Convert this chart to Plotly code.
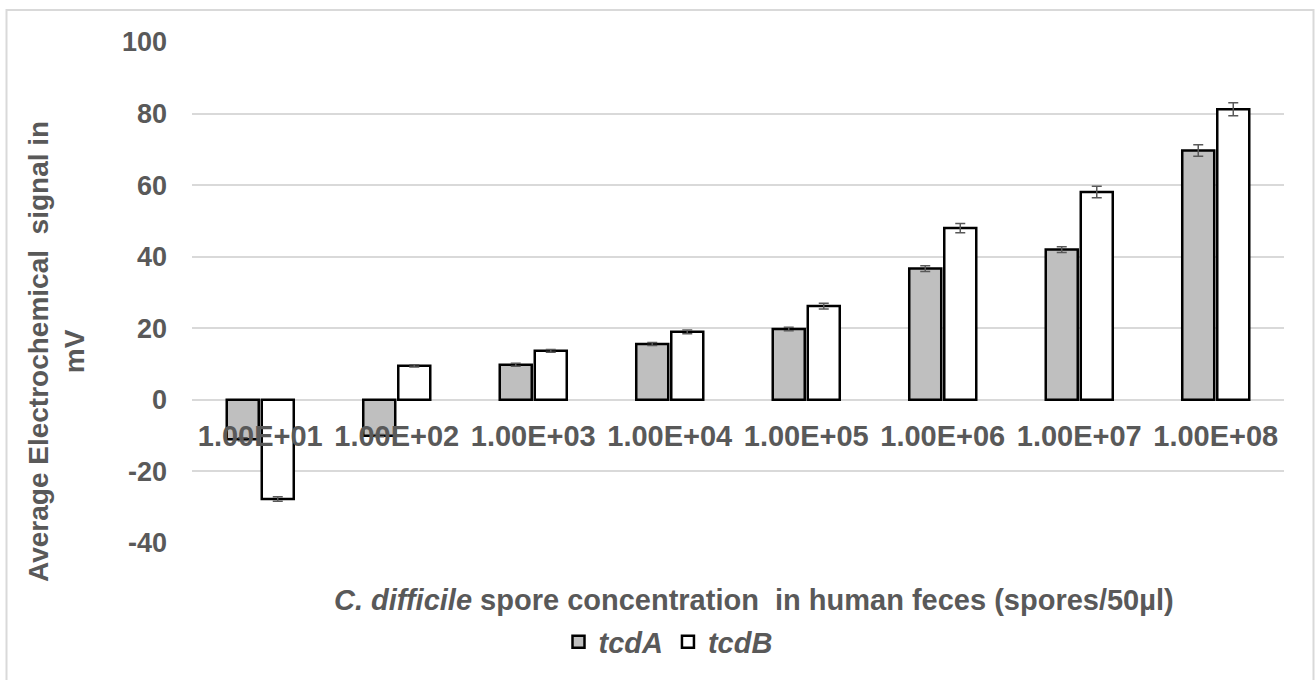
import plotly.graph_objects as go

categories = ["1.00E+01", "1.00E+02", "1.00E+03", "1.00E+04",
              "1.00E+05", "1.00E+06", "1.00E+07", "1.00E+08"]
tcdA = [-11.0, -10.0, 9.8, 15.6, 19.8, 36.7, 42.0, 69.7]
tcdA_err = [0.4, 0.3, 0.4, 0.4, 0.5, 0.8, 0.8, 1.6]
tcdB = [-27.7, 9.5, 13.7, 19.0, 26.2, 48.0, 58.1, 81.2]
tcdB_err = [0.6, 0.3, 0.4, 0.5, 0.8, 1.3, 1.6, 1.8]
y_ticks = [-40, -20, 0, 20, 40, 60, 80, 100]
y_ticktext = [str(v) for v in y_ticks]

FONT = "Liberation Sans, Arial, sans-serif"
TXT = "#595959"
GRID = "#d9d9d9"

W, H = 1316, 680
L, R, T, B = 192, 32, 42, 137
pw, ph = W - L - R, H - T - B
def px(x): return (x - L) / pw
def py(y): return (H - B - y) / ph

fig = go.Figure()
fig.add_trace(go.Bar(
    x=categories, y=tcdA, name="<i>tcdA</i>",
    marker=dict(color="#bfbfbf", line=dict(color="black", width=2.5)),
    error_y=dict(type="data", array=tcdA_err, visible=True,
                 color=TXT, thickness=1.5, width=5),
))
fig.add_trace(go.Bar(
    x=categories, y=tcdB, name="<i>tcdB</i>",
    marker=dict(color="white", line=dict(color="black", width=2.5)),
    error_y=dict(type="data", array=tcdB_err, visible=True,
                 color=TXT, thickness=1.5, width=5),
))

ymin, ymax = -40, 100
fig.update_layout(
    width=W, height=H,
    margin=dict(l=L, r=R, t=T, b=B, pad=0),
    paper_bgcolor="white", plot_bgcolor="white",
    barmode="group", bargap=0.487, bargroupgap=0.086,
    font=dict(family=FONT, color=TXT, size=24),
    showlegend=True,
    legend=dict(orientation="h", x=px(668), y=py(642),
                xanchor="center", yanchor="middle",
                font=dict(family=FONT, size=29, color=TXT, weight="bold"),
                bgcolor="rgba(0,0,0,0)", itemwidth=30, tracegroupgap=0),
    xaxis=dict(
        type="category", anchor="free",
        position=(0 - ymin) / (ymax - ymin),
        showline=False, showgrid=False, zeroline=False, ticks="",
        tickfont=dict(family=FONT, size=29, color=TXT, weight="bold"),
        ticklabelstandoff=16,
    ),
    yaxis=dict(
        range=[ymin, ymax], tickvals=y_ticks, ticktext=y_ticktext,
        showgrid=True,
        gridcolor=GRID, gridwidth=2, zeroline=True, zerolinecolor=GRID,
        zerolinewidth=2, showline=False, ticks="",
        tickfont=dict(family=FONT, size=27, color=TXT, weight="bold"),
        ticklabelstandoff=24,
    ),
    shapes=[dict(type="rect", xref="paper", yref="paper",
                 x0=px(6.5), x1=px(1313.5), y0=py(686), y1=py(10),
                 line=dict(color=GRID, width=2), layer="below")],
    annotations=[
        dict(text="Average Electrochemical  signal in<br>mV",
             xref="paper", yref="paper", x=px(57), y=py(352),
             xanchor="center", yanchor="middle", textangle=-90,
             showarrow=False,
             font=dict(family=FONT, size=28, color=TXT, weight="bold")),
        dict(text="<i>C. difficile</i> spore concentration  in human feces (spores/50µl)",
             xref="paper", yref="paper", x=px(754), y=py(600),
             xanchor="center", yanchor="middle", showarrow=False,
             font=dict(family=FONT, size=29, color=TXT, weight="bold")),
    ],
)

fig.write_html("out.html")
